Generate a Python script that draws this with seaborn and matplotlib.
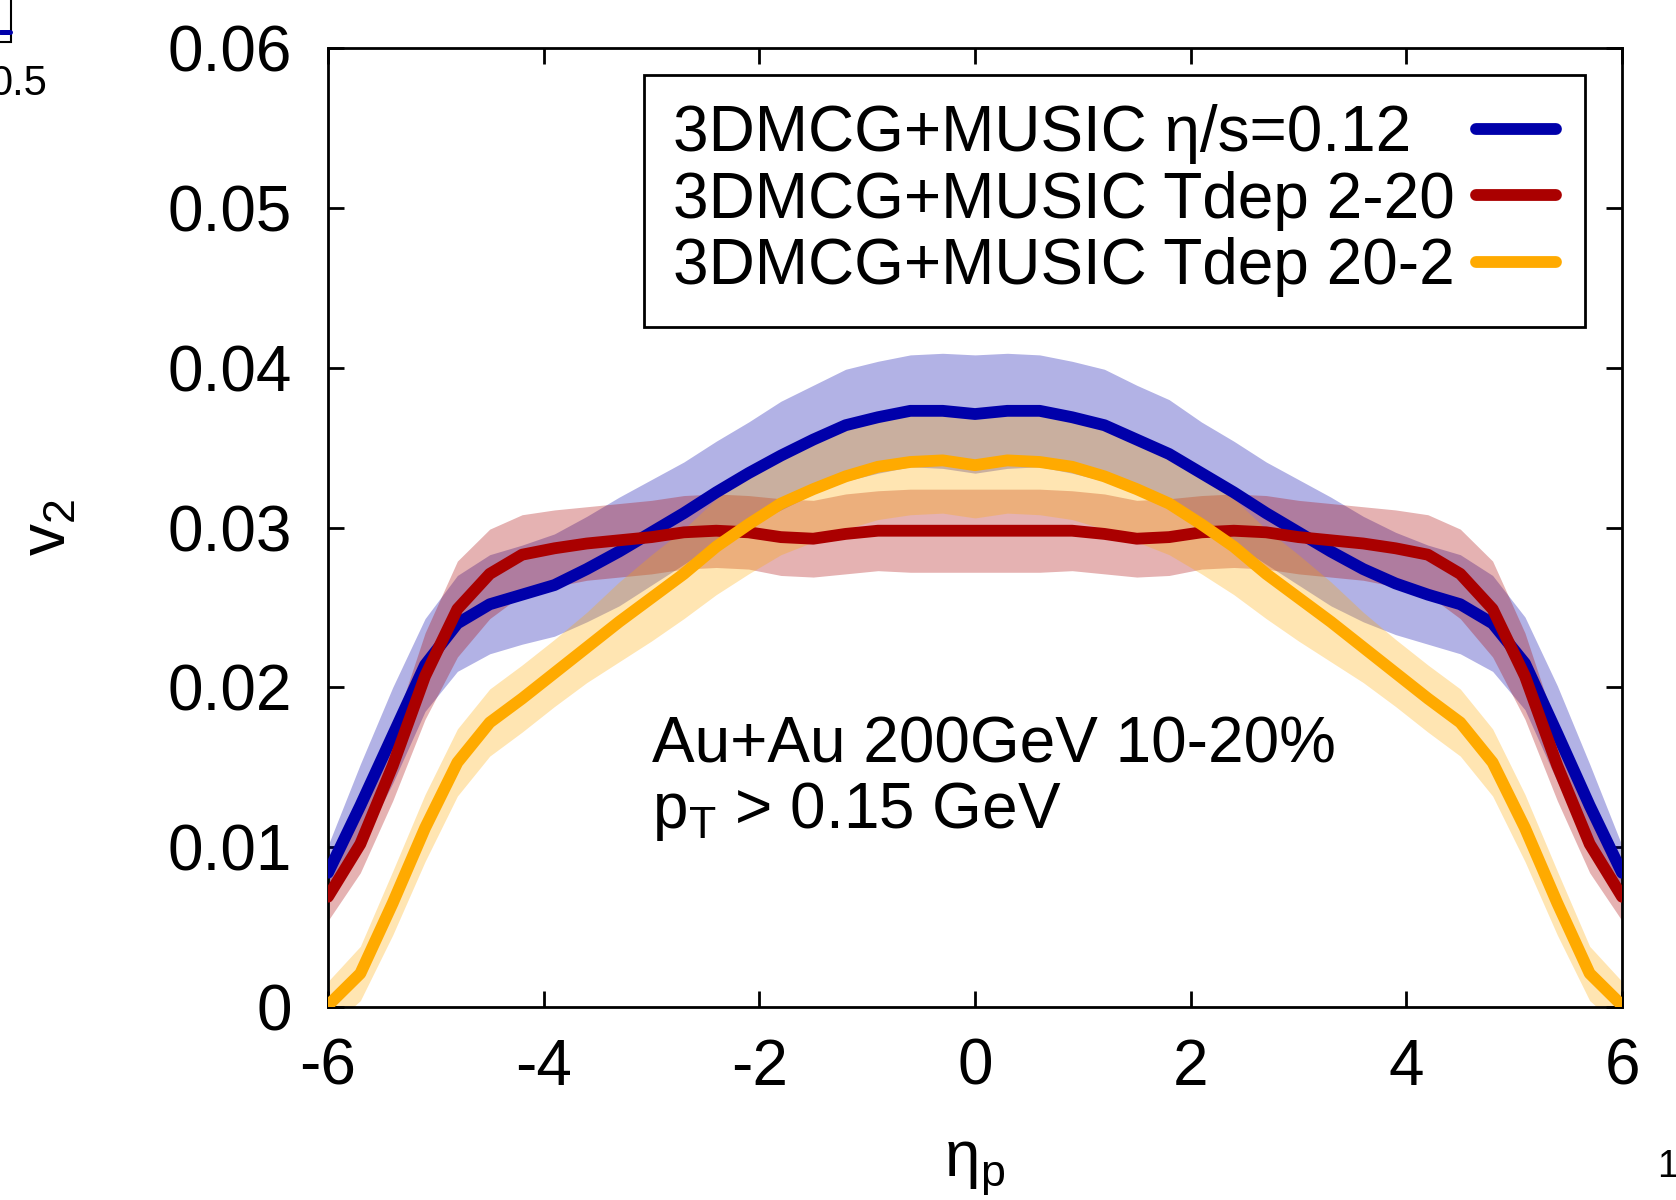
import numpy as np
import pandas as pd
import matplotlib
matplotlib.use("Agg")
import matplotlib.pyplot as plt
import seaborn as sns

sns.set_style("ticks")
plt.rcParams['font.family'] = ['Liberation Sans', 'DejaVu Sans']
plt.rcParams['mathtext.fontset'] = 'custom'
plt.rcParams['mathtext.rm'] = 'Liberation Sans'
plt.rcParams['mathtext.it'] = 'Liberation Sans'
plt.rcParams['mathtext.default'] = 'regular'
plt.rcParams['axes.unicode_minus'] = False
for k in ['text.color', 'axes.labelcolor', 'xtick.color', 'ytick.color', 'axes.edgecolor']:
    plt.rcParams[k] = 'black'

# pseudorapidity grid
eta = [-6.0, -5.7, -5.4, -5.1, -4.8, -4.5, -4.2, -3.9, -3.6, -3.3, -3.0,
       -2.7, -2.4, -2.1, -1.8, -1.5, -1.2, -0.9, -0.6, -0.3, 0.0,
       0.3, 0.6, 0.9, 1.2, 1.5, 1.8, 2.1, 2.4, 2.7, 3.0,
       3.3, 3.6, 3.9, 4.2, 4.5, 4.8, 5.1, 5.4, 5.7, 6.0]

# eta/s = 0.12
v2_const = [0.0084, 0.0126, 0.0170, 0.0214, 0.0240, 0.0252, 0.0258, 0.0264, 0.0274, 0.0285, 0.0297,
            0.0309, 0.0322, 0.0334, 0.0345, 0.0355, 0.0364, 0.0369, 0.0373, 0.0373, 0.0371,
            0.0373, 0.0373, 0.0369, 0.0364, 0.0355, 0.0346, 0.0334, 0.0322, 0.0309, 0.0297,
            0.0285, 0.0274, 0.0265, 0.0258, 0.0252, 0.0240, 0.0215, 0.0171, 0.0126, 0.0084]
err_const = [0.0017, 0.0026, 0.0030, 0.0029, 0.0030, 0.0031, 0.0031, 0.0032, 0.0033, 0.0034, 0.0033,
             0.0032, 0.0032, 0.0032, 0.0034, 0.0034, 0.0035, 0.0035, 0.0035, 0.0036, 0.0037,
             0.0036, 0.0035, 0.0035, 0.0035, 0.0034, 0.0034, 0.0032, 0.0032, 0.0032, 0.0033,
             0.0034, 0.0033, 0.0032, 0.0031, 0.0031, 0.0030, 0.0029, 0.0030, 0.0026, 0.0017]

# Tdep 2-20
v2_t220 = [0.0069, 0.0102, 0.0151, 0.0207, 0.0249, 0.0271, 0.0283, 0.0287, 0.0290, 0.0292, 0.0294,
           0.0297, 0.0298, 0.0297, 0.0294, 0.0293, 0.0296, 0.0298, 0.0298, 0.0298, 0.0298,
           0.0298, 0.0298, 0.0298, 0.0296, 0.0293, 0.0294, 0.0297, 0.0298, 0.0297, 0.0294,
           0.0292, 0.0290, 0.0287, 0.0283, 0.0271, 0.0249, 0.0207, 0.0151, 0.0102, 0.0069]
err_t220 = [0.0015, 0.0018, 0.0022, 0.0027, 0.0030, 0.0028, 0.0025, 0.0024, 0.0023, 0.0023, 0.0023,
            0.0023, 0.0023, 0.0023, 0.0024, 0.0024, 0.0025, 0.0025, 0.0026, 0.0026, 0.0026,
            0.0026, 0.0026, 0.0025, 0.0025, 0.0024, 0.0024, 0.0023, 0.0023, 0.0023, 0.0023,
            0.0023, 0.0023, 0.0024, 0.0025, 0.0028, 0.0030, 0.0027, 0.0022, 0.0018, 0.0015]

# Tdep 20-2
v2_t202 = [0.0001, 0.0021, 0.0065, 0.0112, 0.0153, 0.0178, 0.0193, 0.0209, 0.0225, 0.0241, 0.0256,
           0.0271, 0.0288, 0.0302, 0.0315, 0.0324, 0.0332, 0.0338, 0.0341, 0.0342, 0.0339,
           0.0342, 0.0341, 0.0338, 0.0332, 0.0324, 0.0315, 0.0302, 0.0288, 0.0271, 0.0256,
           0.0241, 0.0225, 0.0209, 0.0193, 0.0178, 0.0153, 0.0112, 0.0065, 0.0021, 0.0001]
err_t202 = [0.0015, 0.0017, 0.0020, 0.0021, 0.0021, 0.0021, 0.0021, 0.0021, 0.0022, 0.0025, 0.0027,
            0.0028, 0.0030, 0.0031, 0.0032, 0.0033, 0.0033, 0.0033, 0.0033, 0.0033, 0.0033,
            0.0033, 0.0033, 0.0033, 0.0033, 0.0033, 0.0032, 0.0031, 0.0030, 0.0028, 0.0027,
            0.0025, 0.0022, 0.0021, 0.0021, 0.0021, 0.0021, 0.0021, 0.0020, 0.0017, 0.0015]

labels = ["3DMCG+MUSIC η/s=0.12", "3DMCG+MUSIC Tdep 2-20", "3DMCG+MUSIC Tdep 20-2"]
colors = ["#0000aa", "#aa0000", "#ffaa00"]
series = [(v2_const, err_const), (v2_t220, err_t220), (v2_t202, err_t202)]

xticks = [-6, -4, -2, 0, 2, 4, 6]
yticks = [0, 0.01, 0.02, 0.03, 0.04, 0.05, 0.06]
ytick_labels = ["0", "0.01", "0.02", "0.03", "0.04", "0.05", "0.06"]

df = pd.concat([pd.DataFrame({'eta': eta, 'v2': v, 'err': e, 'model': lab})
                for (v, e), lab in zip(series, labels)], ignore_index=True)

fig = plt.figure(figsize=(16.76, 12), dpi=100)
ax = fig.add_axes([0.1957, 0.1608, 0.7721, 0.7992])

# uncertainty bands first
for lab, c in zip(labels, colors):
    d = df[df.model == lab]
    ax.fill_between(d.eta, d.v2 - d.err, d.v2 + d.err, color=c, alpha=0.3, lw=0, zorder=1)

sns.lineplot(data=df, x='eta', y='v2', hue='model', hue_order=labels,
             palette=colors, lw=8.5, ax=ax, legend=False, zorder=3)

ax.set_xlim(-6, 6)
ax.set_ylim(0, 0.06)
ax.set_xticks(xticks)
ax.set_xticklabels([str(t) for t in xticks])
ax.set_yticks(yticks)
ax.set_yticklabels(ytick_labels)
ax.tick_params(direction='in', length=11.5, width=2, top=True, right=True, labelsize=46)
ax.tick_params(axis='y', pad=26)
ax.tick_params(axis='x', pad=22)
for s in ax.spines.values():
    s.set_linewidth(2)

ax.set_xlabel("$η_p$", fontsize=46, labelpad=29)
ax.set_ylabel("$v_2$", fontsize=46, labelpad=64)

leg = ax.legend(ax.get_lines()[:3], labels, loc='upper right', bbox_to_anchor=(0.9714, 0.9718),
                borderaxespad=0, fontsize=46, markerfirst=False, handlelength=1.25,
                handletextpad=0.33, labelspacing=0.1, borderpad=0.46,
                fancybox=False, framealpha=1, edgecolor='black')
leg.get_frame().set_linewidth(2)

ax.text(-3.0, 0.0153, "Au+Au 200GeV 10-20%", fontsize=46, va='baseline')
ax.text(-3.0, 0.0112, "$p_T$ > 0.15 GeV", fontsize=46, va='baseline')

# fragments of the neighbouring panels at the crop edges
fig.text(0.028, 0.921, "0.5", fontsize=30, ha='right', va='baseline')
fig.text(0.9887, 0.019, "1", fontsize=27, ha='left', va='baseline')
fig.add_artist(plt.Rectangle((-0.01, 1 - 42 / 1200), 0.01 + 11 / 1676, 0.05,
                             transform=fig.transFigure, fill=False, ec='black', lw=1.5))
fig.add_artist(plt.Line2D([0, 10 / 1676], [1 - 31.5 / 1200] * 2, transform=fig.transFigure,
                          color='#0000aa', lw=3.6))

# keep legend text left-aligned while handles sit on the right
fig.canvas.draw()
r = fig.canvas.get_renderer()
widths = [t.get_window_extent(r).width for t in leg.get_texts()]
col = leg._legend_handle_box.get_children()[0]
for item, w in zip(col.get_children(), widths):
    item.sep += (max(widths) - w) * 72 / fig.dpi

fig.savefig("out.png", dpi=100)
